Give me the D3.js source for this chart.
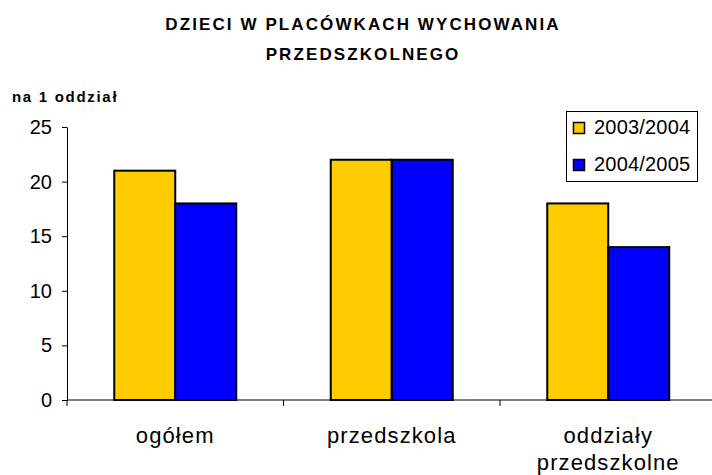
<!DOCTYPE html>
<html lang="pl">
<head>
<meta charset="UTF-8">
<title>Dzieci w placówkach wychowania przedszkolnego</title>
<script src="https://d3js.org/d3.v7.min.js"></script>
<style>
    body { margin: 0; padding: 0; background: #fff; }
    svg { display: block; font-family: 'Liberation Sans', Arial, sans-serif; }
    .title { font-weight: bold; font-size: 17px; letter-spacing: 2.1px; text-anchor: middle; }
    .unit { font-weight: bold; font-size: 15px; letter-spacing: 1.7px; }
    .axis text { font-size: 20px; fill: #000; font-family: 'Liberation Sans', Arial, sans-serif; }
    .axis text.cat { font-size: 22px; letter-spacing: 1.1px; }
    .axis path, .axis line { stroke: #000; }
    .legend text { font-size: 20px; letter-spacing: 0.2px; }
</style>
</head>
<body>
<div id="chart"></div>
<script>
    const categories = [["ogółem"], ["przedszkola"], ["oddziały", "przedszkolne"]];
    const seriesNames = ["2003/2004", "2004/2005"];
    const values2003 = [21, 22, 18];
    const values2004 = [18, 22, 14];
    const yTicks = [0, 5, 10, 15, 20, 25];
    const colors = ["#FFCC00", "#0000FF"];

    const width = 712, height = 475;
    const margin = { left: 67, top: 127, bottom: 75 };
    const plotRight = 716.5;

    const svg = d3.select("#chart").append("svg")
        .attr("width", width)
        .attr("height", height);

    const x = d3.scaleBand()
        .domain(d3.range(categories.length))
        .range([margin.left, plotRight])
        .paddingInner(0)
        .paddingOuter(0);

    const groupW = 122;
    const xs = d3.scaleBand()
        .domain(d3.range(seriesNames.length))
        .range([0, groupW]);

    const y = d3.scaleLinear()
        .domain([0, 25])
        .range([height - margin.bottom, margin.top]);

    // title
    svg.append("text").attr("class", "title").attr("x", 363).attr("y", 30)
        .text("DZIECI W PLACÓWKACH WYCHOWANIA");
    svg.append("text").attr("class", "title").attr("x", 363).attr("y", 60)
        .text("PRZEDSZKOLNEGO");
    svg.append("text").attr("class", "unit").attr("x", 12).attr("y", 102)
        .text("na 1 oddział");

    // bars
    const series = [values2003, values2004];
    series.forEach((vals, s) => {
        svg.append("g").selectAll("rect")
            .data(vals)
            .join("rect")
            .attr("x", (d, i) => x(i) + (x.bandwidth() - groupW) / 2 + xs(s))
            .attr("y", d => y(d))
            .attr("width", xs.bandwidth())
            .attr("height", d => y(0) - y(d))
            .attr("fill", colors[s])
            .attr("stroke", "#000")
            .attr("stroke-width", 2);
    });

    // y axis
    svg.append("g").attr("class", "axis")
        .attr("transform", `translate(${margin.left},0)`)
        .call(d3.axisLeft(y).tickValues(yTicks).tickSize(5).tickSizeOuter(0).tickPadding(10));

    // x axis with category separators
    const xAxis = svg.append("g").attr("class", "axis")
        .attr("transform", `translate(0,${y(0)})`);
    xAxis.append("line")
        .attr("x1", margin.left).attr("x2", plotRight)
        .attr("stroke", "#000");
    xAxis.selectAll(".sep")
        .data(d3.range(categories.length + 1))
        .join("line")
        .attr("class", "sep")
        .attr("x1", i => margin.left + i * x.step())
        .attr("x2", i => margin.left + i * x.step())
        .attr("y1", 0).attr("y2", 6)
        .attr("stroke", "#000");
    const labels = xAxis.selectAll(".cat")
        .data(categories)
        .join("text")
        .attr("class", "cat")
        .attr("text-anchor", "middle")
        .attr("x", (d, i) => x(i) + x.bandwidth() / 2)
        .attr("y", 43);
    labels.selectAll("tspan")
        .data(d => d)
        .join("tspan")
        .attr("x", function () { return this.parentNode.getAttribute("x"); })
        .attr("dy", (d, i) => i === 0 ? 0 : 27)
        .text(d => d);

    // legend
    const legend = svg.append("g").attr("class", "legend");
    legend.append("rect")
        .attr("x", 566.5).attr("y", 111.5)
        .attr("width", 131).attr("height", 70)
        .attr("fill", "#fff").attr("stroke", "#000");
    seriesNames.forEach((name, i) => {
        const ly = 122 + i * 37;
        legend.append("rect")
            .attr("x", 573.5).attr("y", ly + 0.5)
            .attr("width", 11).attr("height", 11)
            .attr("fill", colors[i]).attr("stroke", "#000").attr("stroke-width", 1.5);
        legend.append("text")
            .attr("x", 594).attr("y", ly + 12)
            .text(name);
    });
</script>
</body>
</html>
